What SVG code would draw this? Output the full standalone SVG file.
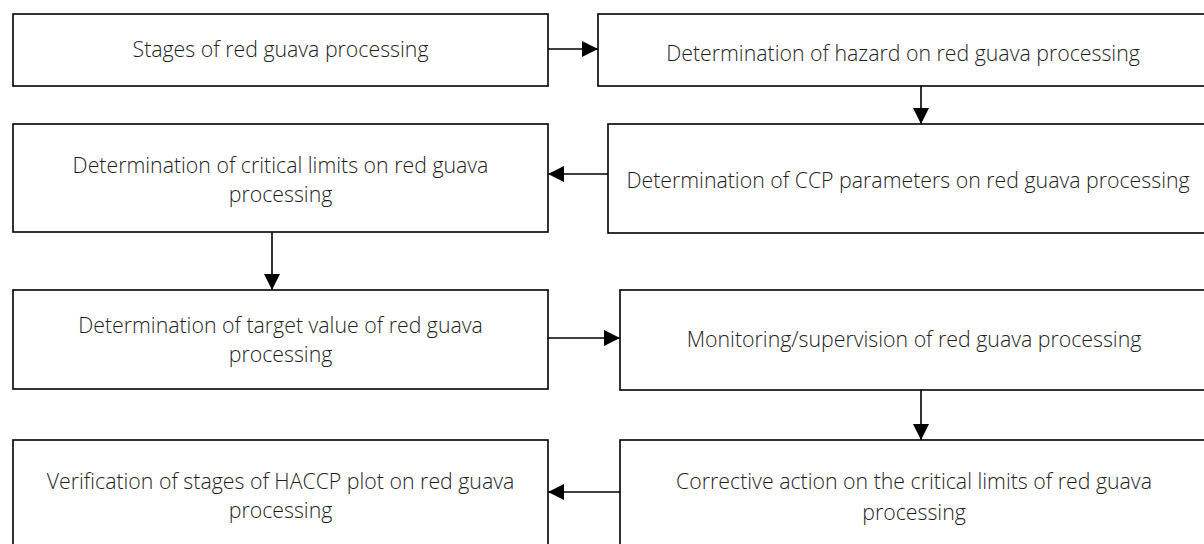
<svg xmlns="http://www.w3.org/2000/svg" width="1204" height="544" viewBox="0 0 1204 544">
<defs>
<marker id="ah" viewBox="0 0 10 10" refX="10" refY="5" markerWidth="16" markerHeight="16" markerUnits="userSpaceOnUse" orient="auto">
<path d="M0,0 L10,5 L0,10 z" fill="#000"/>
</marker>
<style>
.box{fill:#fff;stroke:#000;stroke-width:1.6}
.t{font-family:"Open Sans","Liberation Sans",sans-serif;font-size:21.3px;font-weight:300;fill:#1e1e1e;text-anchor:middle}
.c{stroke:#000;stroke-width:1.6;fill:none;marker-end:url(#ah)}
</style>
</defs>
<rect width="1204" height="544" fill="#fff"/>
<g id="n1"><rect class="box" x="13" y="14" width="535" height="72"/><text class="t" x="280.5" y="57">Stages of red guava processing</text></g>
<g id="n2"><rect class="box" x="598" y="14" width="610" height="72"/><text class="t" x="903" y="61">Determination of hazard on red guava processing</text></g>
<g id="n3"><rect class="box" x="13" y="124" width="535" height="108"/><text class="t" x="280.5" y="173">Determination of critical limits on red guava</text><text class="t" x="280.5" y="202">processing</text></g>
<g id="n4"><rect class="box" x="608" y="124" width="600" height="109"/><text class="t" x="908" y="188">Determination of CCP parameters on red guava processing</text></g>
<g id="n5"><rect class="box" x="13" y="290" width="535" height="99"/><text class="t" x="280.5" y="333">Determination of target value of red guava</text><text class="t" x="280.5" y="362">processing</text></g>
<g id="n6"><rect class="box" x="620" y="290" width="588" height="100"/><text class="t" x="914" y="347">Monitoring/supervision of red guava processing</text></g>
<g id="n7"><rect class="box" x="13" y="440" width="535" height="110"/><text class="t" x="280.5" y="489">Verification of stages of HACCP plot on red guava</text><text class="t" x="280.5" y="518">processing</text></g>
<g id="n8"><rect class="box" x="620" y="440" width="588" height="110"/><text class="t" x="914" y="489">Corrective action on the critical limits of red guava</text><text class="t" x="914" y="520">processing</text></g>
<g id="connectors">
<line class="c" x1="548" y1="49" x2="598" y2="49"/>
<line class="c" x1="921" y1="86" x2="921" y2="124"/>
<line class="c" x1="608" y1="174" x2="548" y2="174"/>
<line class="c" x1="272" y1="232" x2="272" y2="290"/>
<line class="c" x1="548" y1="338" x2="620" y2="338"/>
<line class="c" x1="921" y1="390" x2="921" y2="440"/>
<line class="c" x1="620" y1="492" x2="548" y2="492"/>
</g>
</svg>
